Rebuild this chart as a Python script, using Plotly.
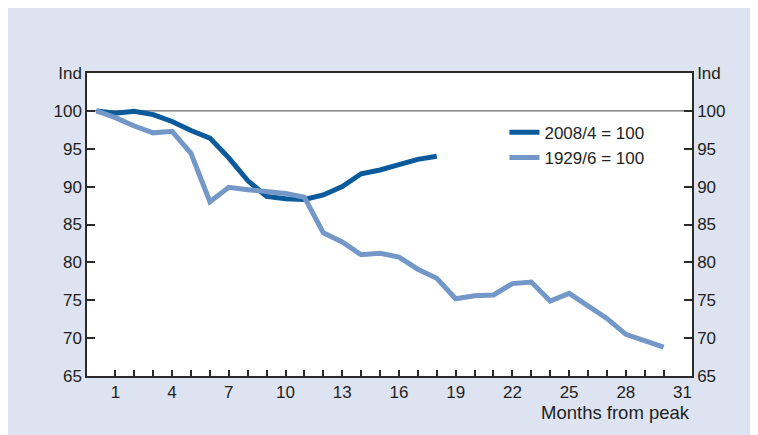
import plotly.graph_objects as go

# ---- data ----
months_2008 = list(range(0, 19))
index_2008 = [100.0, 99.7, 99.95, 99.5, 98.6, 97.4, 96.4, 93.8, 90.8, 88.7,
              88.4, 88.3, 88.9, 90.0, 91.7, 92.2, 92.9, 93.6, 94.0]

months_1929 = list(range(0, 31))
index_1929 = [100.0, 99.1, 98.0, 97.1, 97.3, 94.4, 88.0, 89.9, 89.6, 89.3,
              89.1, 88.6, 83.9, 82.7, 81.0, 81.2, 80.7, 79.1, 77.9, 75.2,
              75.6, 75.7, 77.2, 77.4, 74.9, 75.9, 74.3, 72.6, 70.5, 69.7, 68.8]

series_names = ["2008/4 = 100", "1929/6 = 100"]
series_colors = ["#0a5a9c", "#7398c8"]

y_tickvals = [65, 70, 75, 80, 85, 90, 95, 100, 105]
y_ticktext = ["65", "70", "75", "80", "85", "90", "95", "100", "Ind"]
x_label_vals = [1, 4, 7, 10, 13, 16, 19, 22, 25, 28, 31]
x_minor_ticks = list(range(1, 31))
x_title = "Months from peak"

PANEL = "#dde3f0"
FRAME = "#2b2b2b"
FONT = dict(family="Liberation Sans, Arial, sans-serif", size=17, color="#231f20")

fig = go.Figure()
fig.add_trace(go.Scatter(x=months_2008, y=index_2008, mode="lines",
                         name=series_names[0],
                         line=dict(color=series_colors[0], width=5)))
fig.add_trace(go.Scatter(x=months_1929, y=index_1929, mode="lines",
                         name=series_names[1], yaxis="y2",
                         line=dict(color=series_colors[1], width=5)))

yax = dict(range=[65, 105], tickmode="array", tickvals=y_tickvals, ticktext=y_ticktext,
           ticks="inside", ticklen=8, tickwidth=1.5, tickcolor=FRAME,
           showgrid=False, zeroline=False, showline=True, linecolor=FRAME, linewidth=1.5,
           tickfont=FONT, fixedrange=True, automargin=False)

fig.update_layout(
    width=758, height=435,
    margin=dict(l=79, r=74, t=65, b=67, autoexpand=False),
    paper_bgcolor=PANEL,
    plot_bgcolor="white",
    font=FONT,
    showlegend=True,
    legend=dict(x=0.69, y=0.862, xanchor="left", yanchor="top",
                bgcolor="rgba(0,0,0,0)", font=FONT, tracegroupgap=2),
    xaxis=dict(range=[-0.5, 31.5], tickmode="array", tickvals=x_label_vals,
               ticktext=[str(v) for v in x_label_vals], ticks="", ticklen=0,
               minor=dict(tickmode="array", tickvals=x_minor_ticks, ticks="inside",
                          ticklen=6, tickwidth=1.5, tickcolor=FRAME, showgrid=False),
               showgrid=False, zeroline=False, showline=True, mirror=True,
               linecolor=FRAME, linewidth=1.5, tickfont=FONT, automargin=False),
    yaxis=dict(**yax, side="left"),
    yaxis2=dict(**yax, side="right", overlaying="y"),
    shapes=[
        dict(type="line", xref="paper", yref="y", x0=0, x1=1, y0=100, y1=100,
             line=dict(color="#444444", width=1), layer="below"),
    ],
    annotations=[
        dict(text=x_title, xref="paper", yref="paper", x=1.0, y=-0.119,
             xanchor="right", yanchor="middle", showarrow=False,
             font=dict(family=FONT["family"], size=18.5, color=FONT["color"])),
    ],
)

fig.write_html("out.html")
